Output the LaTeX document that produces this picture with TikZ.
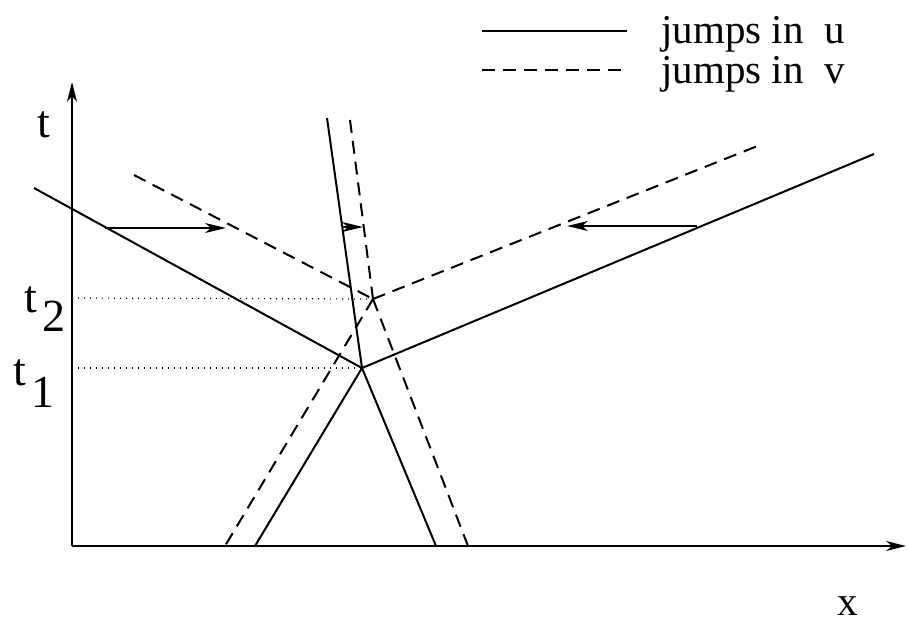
\documentclass[tikz,border=0pt]{standalone}
\usepackage{fontspec}
\setmainfont{Liberation Serif}
\usetikzlibrary{arrows.meta}
\begin{document}
\begin{tikzpicture}[x=0.5pt,y=-0.5pt,
  jump/.style={line width=1pt},
  vjump/.style={line width=1pt,dash pattern=on 6.5pt off 4pt},
  axis/.style={line width=0.7pt,-{Stealth[length=10pt,width=5pt,inset=3pt]}},
  push/.style={line width=0.6pt,-{Stealth[length=10.5pt,width=5pt,inset=3pt]}},
  guide/.style={line width=0.6pt,dash pattern=on 0.6pt off 2.4pt},
  lbl/.style={inner sep=0pt,anchor=base west,font=\fontsize{20.5}{24}\selectfont},
  tlbl/.style={inner sep=0pt,anchor=base west,font=\fontsize{23}{27}\selectfont}]
\useasboundingbox (0,0) rectangle (908,622);
% axes
\coordinate (O) at (72,546);
\coordinate (T) at (72,82);
\coordinate (X) at (906,546);
\draw[axis] (O) -- (T);
\draw[axis] (O) -- (X);
\node[tlbl] (tl) at (37,137) {t};
\node[lbl] (xl) at (837,615) {x};
\node[tlbl] (t2a) at (24,312) {t};
\node[tlbl] (t2b) at (42,331) {2};
\node[tlbl] (t1a) at (13,385) {t};
\node[tlbl] (t1b) at (31,407) {1};
% junction points
\coordinate (J1) at (362,368);
\coordinate (J2) at (373,299);
\coordinate (A1) at (72,368);
\coordinate (A2) at (72,298);
\draw[guide] (A1) -- (J1);
\draw[guide] (A2) -- (J2);
% jumps in u
\coordinate (U1) at (34,188);
\coordinate (U2) at (874,154);
\coordinate (U3) at (327,118);
\coordinate (U4) at (255,546);
\coordinate (U5) at (436,546);
\draw[jump] (U1) -- (J1) -- (U2);
\draw[jump] (U3) -- (J1);
\draw[jump] (U4) -- (J1) -- (U5);
% jumps in v
\coordinate (V1) at (134,175);
\coordinate (V2) at (760,145);
\coordinate (V3) at (350,120);
\coordinate (V4) at (225,546);
\coordinate (V5) at (468,546);
\draw[vjump] (V1) -- (J2);
\draw[vjump] (J2) -- (V2);
\draw[vjump] (V3) -- (J2);
\draw[vjump] (J2) -- (V4);
\draw[vjump] (J2) -- (V5);
% arrows
\coordinate (P1s) at (105,228);
\coordinate (P1e) at (226,228);
\coordinate (P2s) at (343,227);
\coordinate (P2e) at (363,227);
\coordinate (P3s) at (697,226);
\coordinate (P3e) at (567,226);
\draw[push] (P1s) -- (P1e);
\draw[push] (P2s) -- (P2e);
\draw[push] (P3s) -- (P3e);
% legend
\coordinate (L1a) at (482,31);
\coordinate (L1b) at (627,31);
\coordinate (L2a) at (482,70);
\coordinate (L2b) at (627,70);
\draw[jump] (L1a) -- (L1b);
\draw[vjump] (L2a) -- (L2b);
\node[lbl] (lu) at (661,43) {jumps in~~u};
\node[lbl] (lv) at (661,83) {jumps in~~v};
\end{tikzpicture}
\end{document}
